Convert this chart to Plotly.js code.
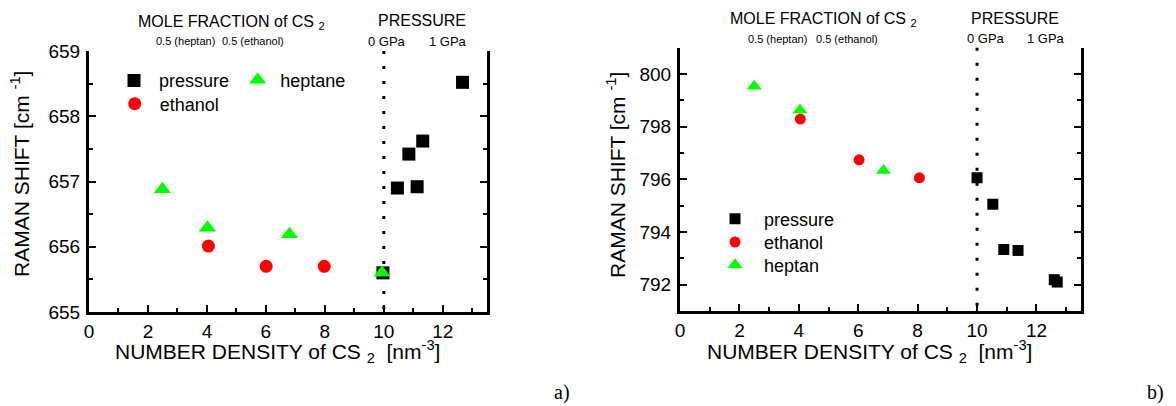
<!DOCTYPE html>
<html>
<head>
<meta charset="utf-8">
<script src="https://cdn.plot.ly/plotly-3.0.1.min.js"></script>
<style>html,body{margin:0;padding:0;background:#fff;}#chart{width:1176px;height:406px;}</style>
</head>
<body>
<div id="chart"></div>
<script>
// ---- data ----
const aPressureX = [9.97, 10.46, 10.85, 11.13, 11.32, 12.67];
const aPressureY = [655.60, 656.90, 657.42, 656.92, 657.62, 658.52];
const aEthanolX = [4.05, 6.01, 7.98];
const aEthanolY = [656.01, 655.70, 655.70];
const aHeptaneX = [2.49, 4.02, 6.80, 9.94];
const aHeptaneY = [656.88, 656.29, 656.19, 655.60];

const bPressureX = [10.00, 10.53, 10.90, 11.38, 12.60, 12.70];
const bPressureY = [796.06, 795.05, 793.34, 793.30, 792.19, 792.10];
const bEthanolX = [4.05, 6.03, 8.06];
const bEthanolY = [798.29, 796.74, 796.06];
const bHeptanX = [2.50, 4.04, 6.85];
const bHeptanY = [799.54, 798.63, 796.34];

const topTickVals = [2.9, 5.08, 10, 12.15];
const moleLabels = ['0.5 (heptan)', '0.5 (ethanol)'];
const aMoleLabelX = [3.29, 5.55];
const bMoleLabelX = [3.27, 5.62];
const pressureLabels = ['0 GPa', '1 GPa'];
const aPressureLabelX = [10.12, 12.17];
const bPressureLabelX = [10.31, 12.32];
const xRange = [0, 13.5];
const aYRange = [655, 659];
const bYRange = [791, 801];
const pressureLine = 10;

const xTitle = 'NUMBER DENSITY of CS <sub>2</sub>  [nm<sup>-3</sup>]';
const yTitle = 'RAMAN SHIFT [cm <sup>-1</sup>]';
const topTitle = 'MOLE FRACTION of CS <sub>2</sub>';
const pressureTitle = 'PRESSURE';

const FONT = 'Liberation Sans, Arial, Helvetica, sans-serif';
const SERIF = 'Liberation Serif, Times New Roman, serif';
const BLACK = '#000000', RED = '#ff0000', GREEN = '#00ff00';

function mk(x, y, xa, ya, symbol, size, color, leg, name) {
  return {x, y, xaxis: xa, yaxis: ya, type: 'scatter', mode: 'markers', name,
    legend: leg, showlegend: true, marker: {symbol, size, color}};
}

const data = [
  mk(aPressureX, aPressureY, 'x', 'y', 'square', 13, BLACK, 'legend', 'pressure'),
  mk(aHeptaneX, aHeptaneY, 'x', 'y', 'triangle-up', 15, GREEN, 'legend3', 'heptane'),
  mk(aEthanolX, aEthanolY, 'x', 'y', 'circle', 13, RED, 'legend2', 'ethanol'),
  mk(bPressureX, bPressureY, 'x2', 'y2', 'square', 11, BLACK, 'legend4', 'pressure'),
  mk(bHeptanX, bHeptanY, 'x2', 'y2', 'triangle-up', 13, GREEN, 'legend6', 'heptan'),
  mk(bEthanolX, bEthanolY, 'x2', 'y2', 'circle', 11, RED, 'legend5', 'ethanol')
];

function xBottom(domain, anchor) {
  return {domain, anchor, range: xRange, tick0: 0, dtick: 2, ticks: 'inside', ticklen: 7, tickwidth: 2,
    tickcolor: BLACK, minor: {dtick: 1, ticks: 'inside', ticklen: 4, tickwidth: 2, tickcolor: BLACK},
    showline: true, linewidth: 3, linecolor: BLACK, mirror: false, showgrid: false, zeroline: false,
    tickfont: {size: 19, color: BLACK, family: FONT}};
}
function xTop(overlay, anchor) {
  return {overlaying: overlay, anchor, side: 'top', range: xRange, tickmode: 'array', tickvals: topTickVals,
    ticks: 'inside', ticklen: 13, tickwidth: 2, tickcolor: BLACK, showticklabels: false,
    showline: true, linewidth: 3, linecolor: BLACK, showgrid: false, zeroline: false};
}
function yAx(domain, anchor, range, dtick, minor) {
  return {domain, anchor, range, dtick, ticks: 'inside', ticklen: 7, tickwidth: 2, tickcolor: BLACK,
    minor: {dtick: minor, ticks: 'inside', ticklen: 4, tickwidth: 2, tickcolor: BLACK},
    showline: true, linewidth: 3, linecolor: BLACK, mirror: 'allticks', showgrid: false, zeroline: false,
    ticklabelstandoff: 2,
    tickfont: {size: 19, color: BLACK, family: FONT}};
}

const aDomX = [89/1176, 487/1176], aDomY = [(406-312)/406, (406-51)/406];
const bDomX = [680/1176, 1081/1176], bDomY = [(406-311)/406, (406-47.7)/406];

const px = v => v / 1176;
const py = v => (406 - v) / 406;

function ann(text, x, xref, y, size, xanchor) {
  return {text, x, xref, y: py(y), yref: 'paper', xanchor: xanchor || 'center', yanchor: 'middle',
    showarrow: false, font: {size, color: BLACK, family: FONT}};
}
function paperAnn(text, x, y, size, angle, family) {
  return {text, x: px(x), xref: 'paper', y: py(y), yref: 'paper', xanchor: 'center', yanchor: 'middle',
    showarrow: false, textangle: angle || 0, font: {size, color: BLACK, family: family || FONT}};
}

const annotations = [
  ann(topTitle, 1.6, 'x', 22, 16, 'left'),
  ann(pressureTitle, 11.28, 'x', 21, 16),
  ann(moleLabels[0], aMoleLabelX[0], 'x', 41, 11),
  ann(moleLabels[1], aMoleLabelX[1], 'x', 41, 11),
  ann(pressureLabels[0], aPressureLabelX[0], 'x', 41.5, 13),
  ann(pressureLabels[1], aPressureLabelX[1], 'x', 41.5, 13),
  ann(topTitle, 1.6, 'x2', 19.5, 16, 'left'),
  ann(pressureTitle, 11.28, 'x2', 18.5, 16),
  ann(moleLabels[0], bMoleLabelX[0], 'x2', 39, 11),
  ann(moleLabels[1], bMoleLabelX[1], 'x2', 39, 11),
  ann(pressureLabels[0], bPressureLabelX[0], 'x2', 38.5, 13),
  ann(pressureLabels[1], bPressureLabelX[1], 'x2', 38.5, 13),
  paperAnn(xTitle, 277, 351, 21),
  paperAnn(xTitle, 869, 351, 21),
  paperAnn(yTitle, 19.4, 173.5, 21, -90),
  paperAnn(yTitle, 616, 175, 21, -90),
  paperAnn('a)', 562, 392, 20, 0, SERIF),
  paperAnn('b)', 1155, 392, 20, 0, SERIF)
];

const shapes = [
  {type: 'line', xref: 'x', yref: 'y domain', x0: pressureLine, x1: pressureLine, y0: 1, y1: 0, layer: 'below',
    line: {color: BLACK, width: 3, dash: '3px,12px'}},
  {type: 'line', xref: 'x2', yref: 'y2 domain', x0: pressureLine, x1: pressureLine, y0: 1, y1: 0, layer: 'below',
    line: {color: BLACK, width: 3, dash: '3px,12px'}}
];

const legFont = {size: 18, color: BLACK, family: FONT};
function leg(left, top, w) {
  return {x: px(left), y: py(top), xanchor: 'left', yanchor: 'top', bgcolor: 'rgba(0,0,0,0)', borderwidth: 0,
    font: legFont, itemwidth: w};
}

const layout = {
  width: 1176, height: 406,
  margin: {l: 0, r: 0, t: 0, b: 0},
  paper_bgcolor: '#ffffff', plot_bgcolor: '#ffffff',
  font: {family: FONT, color: BLACK},
  xaxis: xBottom(aDomX, 'y'),
  xaxis3: xTop('x', 'y'),
  yaxis: yAx(aDomY, 'x', aYRange, 1, 0.5),
  xaxis2: xBottom(bDomX, 'y2'),
  xaxis4: xTop('x2', 'y2'),
  yaxis2: yAx(bDomY, 'x2', bYRange, 2, 1),
  legend: leg(109, 62.2, 40),
  legend2: leg(109.7, 85.5, 40),
  legend3: leg(235.2, 61.5, 35),
  legend4: leg(706, 200.5, 48),
  legend5: leg(706, 223.8, 48),
  legend6: leg(706, 246.5, 48),
  annotations, shapes,
  showlegend: true
};

Plotly.newPlot('chart', data, layout, {displayModeBar: false, staticPlot: true});
</script>
</body>
</html>
